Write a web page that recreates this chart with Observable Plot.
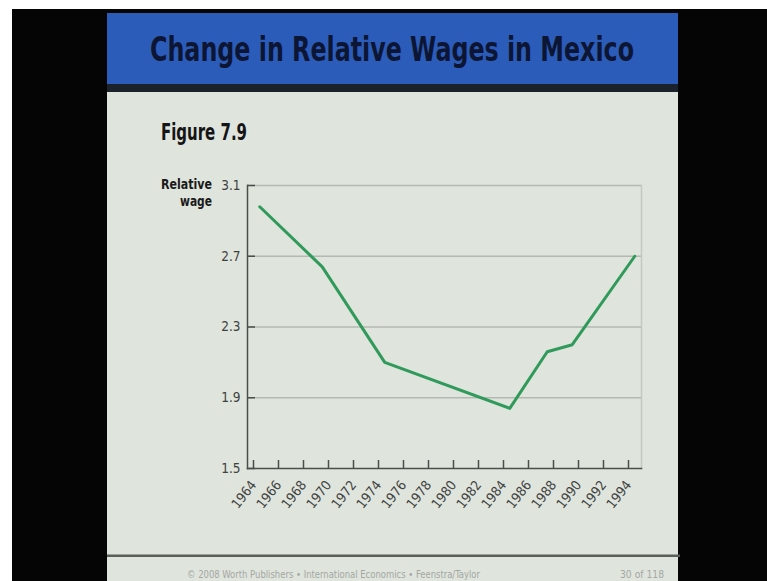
<!DOCTYPE html>
<html>
<head>
<meta charset="utf-8">
<script src="https://cdn.jsdelivr.net/npm/d3@7"></script>
<script src="https://cdn.jsdelivr.net/npm/@observablehq/plot@0.6"></script>
<style>
  html, body { margin: 0; padding: 0; background: #fff; }
  #stage { position: relative; width: 767px; height: 581px; overflow: hidden; }
  #stage > * { position: absolute; left: 0; top: 0; }
</style>
</head>
<body>
<div id="stage">
  <svg id="deco" width="767" height="581" xmlns="http://www.w3.org/2000/svg">
    <rect x="12" y="9" width="755" height="572" fill="#050505"/>
    <rect x="107" y="13" width="571" height="568" fill="#dfe4dd"/>
    <rect x="107" y="13" width="571" height="71" fill="#2c5cb9"/>
    <rect x="107" y="84" width="571" height="8" fill="#1b222c"/>
    <text x="150" y="61" font-family="'Liberation Sans Narrow','DejaVu Sans Condensed',sans-serif" font-weight="bold" font-size="33" fill="#0c1634" textLength="484" lengthAdjust="spacingAndGlyphs">Change in Relative Wages in Mexico</text>
    <text x="161" y="140" font-family="'Liberation Sans Narrow','DejaVu Sans Condensed',sans-serif" font-weight="bold" font-size="23" fill="#151515" textLength="86" lengthAdjust="spacingAndGlyphs">Figure 7.9</text>
    <text x="212" y="189" text-anchor="end" font-family="'Liberation Sans Narrow','DejaVu Sans Condensed',sans-serif" font-weight="bold" font-size="14.5" fill="#1a1a1a" textLength="51" lengthAdjust="spacingAndGlyphs">Relative</text>
    <text x="212" y="206" text-anchor="end" font-family="'Liberation Sans Narrow','DejaVu Sans Condensed',sans-serif" font-weight="bold" font-size="14.5" fill="#1a1a1a" textLength="32" lengthAdjust="spacingAndGlyphs">wage</text>
    <rect x="107" y="554.5" width="573" height="2.5" fill="#59605a"/>
    <text x="187" y="578" font-family="'DejaVu Sans Condensed','Liberation Sans Narrow',sans-serif" font-size="10.5" fill="#a3a8a3" textLength="293" lengthAdjust="spacingAndGlyphs">© 2008 Worth Publishers  •  International Economics  •  Feenstra/Taylor</text>
    <text x="620" y="578" font-family="'DejaVu Sans Condensed','Liberation Sans Narrow',sans-serif" font-size="10.5" fill="#a3a8a3" textLength="44" lengthAdjust="spacingAndGlyphs">30 of 118</text>
  </svg>
</div>
<script>
// Data (values at mid-year of each labelled year)
const years = [1964, 1969, 1974, 1984, 1987, 1989, 1994];
const wages = [2.98, 2.64, 2.10, 1.84, 2.16, 2.20, 2.70];
const xTicks = [1964, 1966, 1968, 1970, 1972, 1974, 1976, 1978, 1980, 1982, 1984, 1986, 1988, 1990, 1992, 1994];
const yTicks = [1.5, 1.9, 2.3, 2.7, 3.1];

const data = years.map((year, i) => ({year, value: wages[i]}));

const fontCond = "'DejaVu Sans Condensed','Liberation Sans Narrow',sans-serif";

const chart = Plot.plot({
  width: 767,
  height: 581,
  marginLeft: 247,
  marginRight: 126,
  marginTop: 185,
  marginBottom: 113,
  style: {background: "transparent", fontFamily: fontCond, color: "#3e423e"},
  x: {domain: [1963.52, 1995.04]},
  y: {domain: [1.5, 3.1]},
  marks: [
    Plot.gridY(yTicks.slice(1), {stroke: "#b3b8b3", strokeOpacity: 1, strokeWidth: 1.5}),
    Plot.frame({anchor: "right", stroke: "#c3c8c3", strokeWidth: 1.5}),
    Plot.frame({anchor: "left", stroke: "#4a4f4a", strokeWidth: 1.5}),
    Plot.frame({anchor: "bottom", stroke: "#4a4f4a", strokeWidth: 1.5}),
    Plot.axisY({ticks: yTicks, tickSize: -8, tickPadding: 15, tickFormat: d3.format(".1f"), label: null, fontSize: 13.5, stroke: "#4a4f4a", strokeWidth: 1.5}),
    Plot.axisX({ticks: xTicks, tickSize: -8, tickPadding: 22, tickRotate: -52, tickFormat: d => String(d), label: null, fontSize: 13.5, stroke: "#4a4f4a", strokeWidth: 1.5}),
    Plot.line(data, {x: d => d.year + 0.5, y: "value", stroke: "#2f9a5a", strokeWidth: 3, strokeLinejoin: "round"})
  ]
});
document.getElementById("stage").appendChild(chart);
</script>
</body>
</html>
